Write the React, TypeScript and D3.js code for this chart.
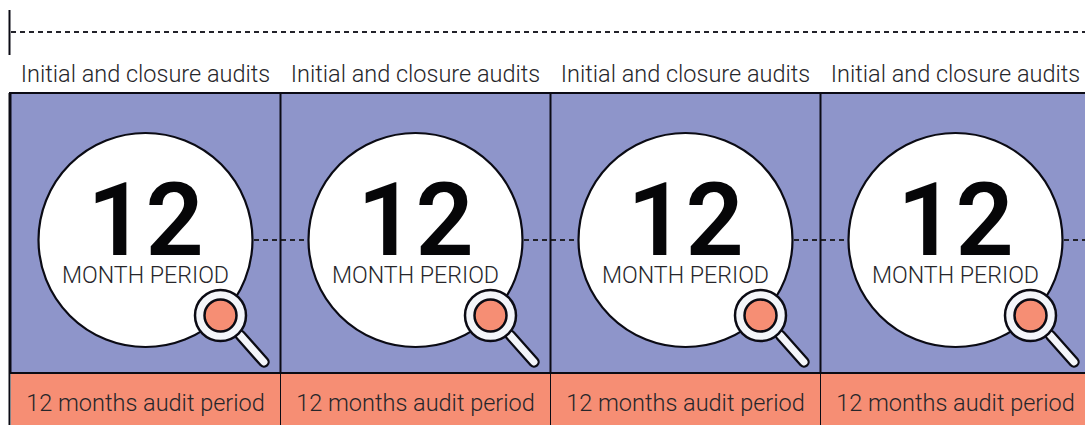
import React from 'react';
import * as d3 from 'd3';

const years = ['Year 1', 'Year 2', 'Year 3', 'Year 4'];
const periodMonths = [12, 12, 12, 12];
const topLabels = ['Initial and closure audits', 'Initial and closure audits', 'Initial and closure audits', 'Initial and closure audits'];
const bottomLabels = ['12 months audit period', '12 months audit period', '12 months audit period', '12 months audit period'];

const WIDTH = 1085;
const HEIGHT = 425;
const PURPLE = '#8e95ca';
const ORANGE = '#f68e74';
const INK = '#0b0b14';
const DASH = '#22222a';
const LABEL = '#26262a';
const FONT = 'Roboto, sans-serif';

// each panel is 270px wide, the last one runs off the right edge
const x = d3.scaleBand<string>().domain(years).range([11, 1091]).paddingInner(0).paddingOuter(0);
const y = d3.scaleLinear().domain([0, 1]).range([93, 373]);

const CIRCLE_R = 107;

function Magnifier({ cx, cy }: { cx: number; cy: number }) {
  const handle = d3.path();
  handle.moveTo(cx + 20, cy + 20);
  handle.lineTo(cx + 43.5, cy + 46.5);
  return (
    <g>
      <path d={handle.toString()} stroke={INK} strokeWidth={11.5} strokeLinecap="round" fill="none" />
      <path d={handle.toString()} stroke="#f4f6fa" strokeWidth={7} strokeLinecap="round" fill="none" />
      <circle cx={cx} cy={cy} r={25.5} fill="#f4f6fa" stroke={INK} strokeWidth={2.5} />
      <circle cx={cx} cy={cy} r={16} fill={ORANGE} stroke={INK} strokeWidth={2.5} />
    </g>
  );
}

export default function App() {
  const bw = x.bandwidth();
  return (
    <svg
      width={WIDTH}
      height={HEIGHT}
      viewBox={`0 0 ${WIDTH} ${HEIGHT}`}
      style={{ position: 'absolute', left: 0, top: 0, background: '#fff' }}
    >
      {/* timeline at the top */}
      <line x1={9.5} x2={9.5} y1={10} y2={55} stroke={INK} strokeWidth={2} />
      <line x1={11} x2={WIDTH} y1={32} y2={32} stroke={DASH} strokeWidth={2} strokeDasharray="5 4" />

      {years.map((yr, i) => {
        const left = x(yr) as number;
        return (
          <g key={yr}>
            <text x={left + 134.5} y={82} textAnchor="middle" fontFamily={FONT} fontWeight={300} fontSize={23.5} fill={LABEL}>
              {topLabels[i]}
            </text>
            <rect x={left} y={y(0)} width={bw} height={y(1) - y(0)} fill={PURPLE} />
            <rect x={left} y={y(1)} width={bw} height={HEIGHT - y(1)} fill={ORANGE} />
          </g>
        );
      })}

      {/* dashed link between the circles */}
      <line x1={200} x2={WIDTH} y1={240} y2={240} stroke={DASH} strokeWidth={2} strokeDasharray="5 4" />

      {/* frame lines */}
      <line x1={9} x2={WIDTH} y1={y(0)} y2={y(0)} stroke={INK} strokeWidth={2} />
      <line x1={9} x2={WIDTH} y1={y(1)} y2={y(1)} stroke={INK} strokeWidth={2} />
      {years.map((yr) => (
        <line key={yr} x1={(x(yr) as number) - 0.5} x2={(x(yr) as number) - 0.5} y1={y(0)} y2={y(1)} stroke={INK} strokeWidth={2} />
      ))}
      <line x1={9.5} x2={9.5} y1={y(0)} y2={HEIGHT} stroke={INK} strokeWidth={2} />
      {years.slice(1).map((yr) => (
        <line key={yr} x1={(x(yr) as number) - 0.5} x2={(x(yr) as number) - 0.5} y1={y(1)} y2={HEIGHT} stroke={INK} strokeWidth={1} />
      ))}

      {years.map((yr, i) => {
        const left = x(yr) as number;
        const cx = left + 134.5;
        const cy = 240;
        return (
          <g key={yr + '-badge'}>
            <circle cx={cx} cy={cy} r={CIRCLE_R} fill="#fff" stroke={INK} strokeWidth={2.2} />
            <text x={cx} y={255} textAnchor="middle" fontFamily={FONT} fontWeight={600} fontSize={102} fill="#060608">
              {periodMonths[i]}
            </text>
            <text x={cx} y={283} textAnchor="middle" fontFamily={FONT} fontWeight={300} fontSize={23.2} fill={LABEL}>
              MONTH PERIOD
            </text>
            <Magnifier cx={cx + 75} cy={315.5} />
            <text x={left + 134.5} y={411} textAnchor="middle" fontFamily={FONT} fontWeight={300} fontSize={23.5} fill={LABEL}>
              {bottomLabels[i]}
            </text>
          </g>
        );
      })}
    </svg>
  );
}
